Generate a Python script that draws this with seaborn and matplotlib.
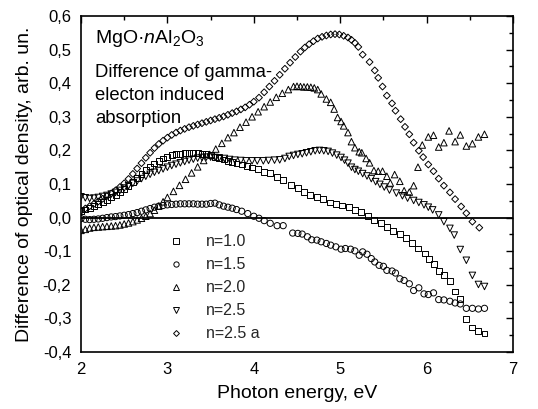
import numpy as np
import pandas as pd
import matplotlib
matplotlib.use("Agg")
import matplotlib.pyplot as plt
import seaborn as sns
from matplotlib.lines import Line2D
from matplotlib.ticker import MultipleLocator, FuncFormatter

sns.set_theme(style="white")
plt.rcParams["font.family"] = ["Liberation Sans", "DejaVu Sans"]
plt.rcParams["mathtext.fontset"] = "custom"
plt.rcParams["mathtext.rm"] = "Liberation Sans"
plt.rcParams["mathtext.it"] = "Liberation Sans:italic"

series_labels = ["n=1.0", "n=1.5", "n=2.0", "n=2.5", "n=2.5 a"]

# ---- n=1.0 (squares)
e_n10 = [2.00, 2.05, 2.10, 2.15, 2.20, 2.25, 2.30, 2.35, 2.40, 2.45, 2.50, 2.55, 2.60, 2.65, 2.70,
         2.75, 2.80, 2.85, 2.90, 2.95, 3.00, 3.05, 3.10, 3.15, 3.20, 3.25, 3.30, 3.35, 3.40, 3.45,
         3.50, 3.55, 3.60, 3.65, 3.70, 3.75, 3.80, 3.86, 3.92, 3.98, 4.05, 4.12, 4.19, 4.27, 4.34,
         4.43, 4.51, 4.58, 4.65, 4.73, 4.80, 4.88, 4.95, 5.02, 5.10, 5.17, 5.24, 5.32, 5.39, 5.47,
         5.54, 5.61, 5.69, 5.76, 5.83, 5.90, 5.98, 6.03, 6.09, 6.14, 6.20, 6.27, 6.33, 6.39, 6.46,
         6.53, 6.60, 6.67]
v_n10 = [0.020, 0.024, 0.029, 0.034, 0.040, 0.046, 0.053, 0.060, 0.067, 0.075, 0.084, 0.094, 0.105, 0.117, 0.129,
         0.141, 0.152, 0.161, 0.169, 0.176, 0.181, 0.185, 0.188, 0.190, 0.191, 0.192, 0.192, 0.191, 0.190, 0.188,
         0.185, 0.181, 0.177, 0.173, 0.169, 0.165, 0.161, 0.158, 0.154, 0.149, 0.144, 0.137, 0.132, 0.122, 0.112,
         0.098, 0.088, 0.076, 0.068, 0.061, 0.055, 0.045, 0.041, 0.036, 0.031, 0.023, 0.016, 0.005, -0.007, -0.017,
         -0.027, -0.039, -0.050, -0.062, -0.075, -0.092, -0.107, -0.122, -0.137, -0.159, -0.172, -0.189, -0.220, -0.242, -0.302,
         -0.327, -0.337, -0.345]

# ---- n=1.5 (circles)
e_n15 = [2.00, 2.05, 2.10, 2.15, 2.20, 2.25, 2.30, 2.35, 2.40, 2.45, 2.50, 2.55, 2.60, 2.65, 2.70,
         2.75, 2.80, 2.85, 2.90, 2.95, 3.00, 3.05, 3.10, 3.15, 3.20, 3.25, 3.30, 3.35, 3.40, 3.45,
         3.50, 3.55, 3.60, 3.65, 3.70, 3.75, 3.80, 3.86, 3.93, 4.00, 4.06, 4.12, 4.19, 4.27, 4.34,
         4.45, 4.51, 4.56, 4.62, 4.67, 4.73, 4.78, 4.84, 4.89, 4.95, 5.01, 5.06, 5.12, 5.17, 5.22,
         5.26, 5.31, 5.36, 5.40, 5.45, 5.50, 5.54, 5.60, 5.64, 5.69, 5.74, 5.80, 5.85, 5.91, 5.97,
         6.02, 6.08, 6.14, 6.20, 6.27, 6.33, 6.39, 6.46, 6.53, 6.60, 6.67]
v_n15 = [-0.003, -0.005, -0.006, -0.005, -0.004, -0.002, 0.000, 0.002, 0.003, 0.005, 0.007, 0.009, 0.012, 0.015, 0.019,
         0.023, 0.027, 0.031, 0.034, 0.036, 0.038, 0.039, 0.040, 0.041, 0.041, 0.041, 0.041, 0.040, 0.040, 0.040,
         0.042, 0.043, 0.038, 0.034, 0.031, 0.028, 0.024, 0.019, 0.012, 0.004, -0.002, -0.009, -0.017, -0.024, -0.024,
         -0.046, -0.047, -0.049, -0.057, -0.066, -0.067, -0.072, -0.077, -0.082, -0.087, -0.094, -0.092, -0.094, -0.099, -0.112,
         -0.102, -0.109, -0.122, -0.132, -0.142, -0.145, -0.157, -0.159, -0.165, -0.182, -0.187, -0.197, -0.217, -0.209, -0.227,
         -0.229, -0.224, -0.244, -0.245, -0.249, -0.254, -0.257, -0.270, -0.270, -0.272, -0.270]

# ---- n=2.0 (up triangles)
e_n20 = [2.00, 2.05, 2.10, 2.15, 2.20, 2.25, 2.30, 2.35, 2.40, 2.45, 2.50, 2.55, 2.60, 2.65, 2.70,
         2.75, 2.80, 2.85, 2.90, 2.95, 3.00, 3.07, 3.14, 3.21, 3.28, 3.35, 3.42, 3.49, 3.56, 3.63,
         3.70, 3.77, 3.84, 3.91, 3.98, 4.05, 4.12, 4.19, 4.26, 4.33, 4.40, 4.46, 4.50, 4.54, 4.58,
         4.62, 4.66, 4.70, 4.74, 4.78, 4.84, 4.89, 4.93, 4.97, 5.01, 5.04, 5.09, 5.13, 5.17, 5.22,
         5.25, 5.30, 5.34, 5.39, 5.44, 5.49, 5.54, 5.58, 5.63, 5.69, 5.74, 5.80, 5.85, 5.90, 5.95,
         6.02, 6.08, 6.14, 6.20, 6.26, 6.33, 6.39, 6.46, 6.53, 6.60, 6.67]
v_n20 = [-0.038, -0.035, -0.031, -0.029, -0.028, -0.027, -0.026, -0.025, -0.024, -0.022, -0.019, -0.016, -0.012, -0.007, -0.002,
         0.004, 0.012, 0.022, 0.034, 0.047, 0.060, 0.078, 0.096, 0.114, 0.133, 0.151, 0.170, 0.188, 0.204, 0.221,
         0.238, 0.253, 0.269, 0.284, 0.300, 0.315, 0.330, 0.344, 0.358, 0.370, 0.381, 0.390, 0.391, 0.390, 0.389,
         0.389, 0.388, 0.386, 0.381, 0.368, 0.353, 0.343, 0.323, 0.298, 0.286, 0.273, 0.253, 0.226, 0.208, 0.196,
         0.193, 0.176, 0.163, 0.140, 0.138, 0.138, 0.123, 0.103, 0.128, 0.108, 0.080, 0.076, 0.095, 0.150, 0.216,
         0.240, 0.245, 0.210, 0.223, 0.258, 0.226, 0.246, 0.213, 0.220, 0.240, 0.248]

# ---- n=2.5 (down triangles)
e_n25 = [2.00, 2.05, 2.10, 2.15, 2.20, 2.25, 2.30, 2.35, 2.40, 2.45, 2.50, 2.55, 2.60, 2.65, 2.70,
         2.75, 2.80, 2.85, 2.90, 2.95, 3.00, 3.05, 3.10, 3.15, 3.20, 3.25, 3.30, 3.35, 3.40, 3.45,
         3.50, 3.55, 3.60, 3.66, 3.72, 3.78, 3.85, 3.91, 3.98, 4.04, 4.11, 4.17, 4.24, 4.30, 4.36,
         4.41, 4.46, 4.51, 4.56, 4.61, 4.66, 4.71, 4.76, 4.81, 4.86, 4.91, 4.96, 5.01, 5.05, 5.09,
         5.13, 5.17, 5.21, 5.26, 5.31, 5.36, 5.41, 5.46, 5.51, 5.57, 5.65, 5.72, 5.78, 5.85, 5.91,
         5.97, 6.02, 6.07, 6.14, 6.20, 6.27, 6.32, 6.39, 6.46, 6.53, 6.60, 6.67]
v_n25 = [0.062, 0.059, 0.057, 0.058, 0.060, 0.063, 0.066, 0.070, 0.075, 0.081, 0.088, 0.095, 0.102, 0.109, 0.116,
         0.123, 0.129, 0.135, 0.140, 0.145, 0.150, 0.155, 0.159, 0.163, 0.167, 0.171, 0.174, 0.177, 0.179, 0.180,
         0.180, 0.179, 0.178, 0.176, 0.173, 0.171, 0.170, 0.169, 0.169, 0.169, 0.169, 0.170, 0.171, 0.172, 0.176,
         0.182, 0.185, 0.188, 0.190, 0.193, 0.196, 0.199, 0.200, 0.199, 0.197, 0.192, 0.186, 0.179, 0.171, 0.162,
         0.150, 0.143, 0.138, 0.131, 0.124, 0.116, 0.107, 0.099, 0.091, 0.082, 0.073, 0.065, 0.058, 0.051, 0.045,
         0.038, 0.031, 0.023, 0.008, -0.012, -0.032, -0.052, -0.095, -0.127, -0.172, -0.199, -0.205]

# ---- n=2.5 a (diamonds)
e_n25a = [2.00, 2.05, 2.10, 2.15, 2.20, 2.25, 2.30, 2.35, 2.40, 2.45, 2.50, 2.55, 2.60, 2.65, 2.70,
          2.75, 2.80, 2.85, 2.90, 2.95, 3.00, 3.05, 3.10, 3.15, 3.20, 3.25, 3.30, 3.35, 3.40, 3.45,
          3.50, 3.55, 3.60, 3.65, 3.70, 3.75, 3.80, 3.85, 3.90, 3.95, 4.00, 4.06, 4.12, 4.18, 4.24,
          4.30, 4.36, 4.42, 4.48, 4.54, 4.59, 4.64, 4.69, 4.74, 4.79, 4.84, 4.89, 4.94, 4.99, 5.04,
          5.09, 5.13, 5.17, 5.21, 5.26, 5.34, 5.40, 5.44, 5.49, 5.54, 5.60, 5.64, 5.70, 5.75, 5.80,
          5.85, 5.91, 5.96, 6.02, 6.08, 6.14, 6.20, 6.27, 6.33, 6.40, 6.46, 6.53, 6.61]
v_n25a = [0.020, 0.027, 0.034, 0.041, 0.048, 0.056, 0.064, 0.072, 0.081, 0.091, 0.102, 0.115, 0.130, 0.146, 0.162,
          0.178, 0.193, 0.207, 0.219, 0.229, 0.238, 0.246, 0.253, 0.259, 0.264, 0.269, 0.273, 0.277, 0.281, 0.285,
          0.289, 0.293, 0.297, 0.301, 0.306, 0.311, 0.316, 0.322, 0.328, 0.336, 0.345, 0.357, 0.373, 0.390, 0.407,
          0.425, 0.443, 0.461, 0.478, 0.494, 0.506, 0.516, 0.525, 0.533, 0.538, 0.542, 0.545, 0.546, 0.545, 0.541,
          0.536, 0.529, 0.520, 0.508, 0.485, 0.463, 0.438, 0.416, 0.390, 0.363, 0.340, 0.318, 0.293, 0.270, 0.248,
          0.223, 0.199, 0.180, 0.158, 0.138, 0.116, 0.095, 0.075, 0.055, 0.033, 0.013, -0.012, -0.030]

x_ticks = [2, 3, 4, 5, 6, 7]
y_ticks = [-0.4, -0.3, -0.2, -0.1, 0.0, 0.1, 0.2, 0.3, 0.4, 0.5, 0.6]

energies = [e_n10, e_n15, e_n20, e_n25, e_n25a]
values = [v_n10, v_n15, v_n20, v_n25, v_n25a]
frames = []
for lab, e, v in zip(series_labels, energies, values):
    frames.append(pd.DataFrame({"energy": e, "od": v, "series": lab}))
df = pd.concat(frames, ignore_index=True)

markers = {"n=1.0": "s", "n=1.5": "o", "n=2.0": "^", "n=2.5": "v", "n=2.5 a": "D"}
msizes = {"n=1.0": 18, "n=1.5": 20, "n=2.0": 22, "n=2.5": 22, "n=2.5 a": 12}

W, H = 538, 409
L, R, T, B = 81, 513, 16, 352
fig = plt.figure(figsize=(W / 100, H / 100), dpi=100)
ax = fig.add_axes([L / W, 1 - B / H, (R - L) / W, (B - T) / H])

ax.axhline(0, color="black", lw=1.3, zorder=1)

for lab in series_labels:
    sub = df[df["series"] == lab]
    sns.scatterplot(data=sub, x="energy", y="od", marker=markers[lab], s=msizes[lab],
                    facecolor="none", edgecolor="black", linewidth=0.7, ax=ax, legend=False,
                    zorder=3)
for coll in ax.collections:
    coll.set_facecolor("none")
    coll.set_edgecolor("black")

ax.set_xlim(2, 7)
ax.set_ylim(-0.4, 0.6)
ax.set_xticks(x_ticks)
ax.set_yticks(y_ticks)
ax.xaxis.set_minor_locator(MultipleLocator(0.5))
ax.yaxis.set_minor_locator(MultipleLocator(0.05))
ax.xaxis.set_major_formatter(FuncFormatter(lambda v, p: f"{v:g}"))
ax.yaxis.set_major_formatter(FuncFormatter(lambda v, p: f"{v:.1f}".replace(".", ",").replace("-0,0", "0,0")))
ax.tick_params(which="both", direction="in", top=True, right=True, colors="black",
               labelsize=12, width=1.0)
ax.tick_params(which="major", length=5)
ax.tick_params(which="minor", length=3)
ax.tick_params(axis="x", pad=7)
ax.tick_params(axis="y", pad=7)
for sp in ax.spines.values():
    sp.set_color("black")
    sp.set_linewidth(1.2)
ax.grid(False)

ax.set_xlabel("Photon energy, eV", fontsize=14, color="black", labelpad=6)
ax.set_ylabel("Difference of optical density, arb. un.", fontsize=14, color="black", labelpad=7)

tx = (95 - L) / (R - L)
ax.text(tx, (B - 43) / (B - T), "MgO·$\\mathit{n}$Al$_2$O$_3$", transform=ax.transAxes,
        fontsize=14, va="baseline", ha="left", color="black")
for txt, yb in [("Difference of gamma-", 77), ("electon induced", 100), ("absorption", 123)]:
    ax.text(tx, (B - yb) / (B - T), txt, transform=ax.transAxes,
            fontsize=13.3, va="baseline", ha="left", color="black")

handles = [Line2D([], [], marker=markers[l], linestyle="none", markerfacecolor="none",
                  markeredgecolor="black", markersize=3.8 if markers[l] != "D" else 3.0,
                  markeredgewidth=0.7) for l in series_labels]
ax.legend(handles, series_labels, loc="upper left", bbox_to_anchor=(0.175, 0.383),
          frameon=False, fontsize=11.5, handlelength=1.0, handletextpad=1.4,
          labelspacing=0.5, borderpad=0.2)

fig.savefig("out.png", dpi=100)
